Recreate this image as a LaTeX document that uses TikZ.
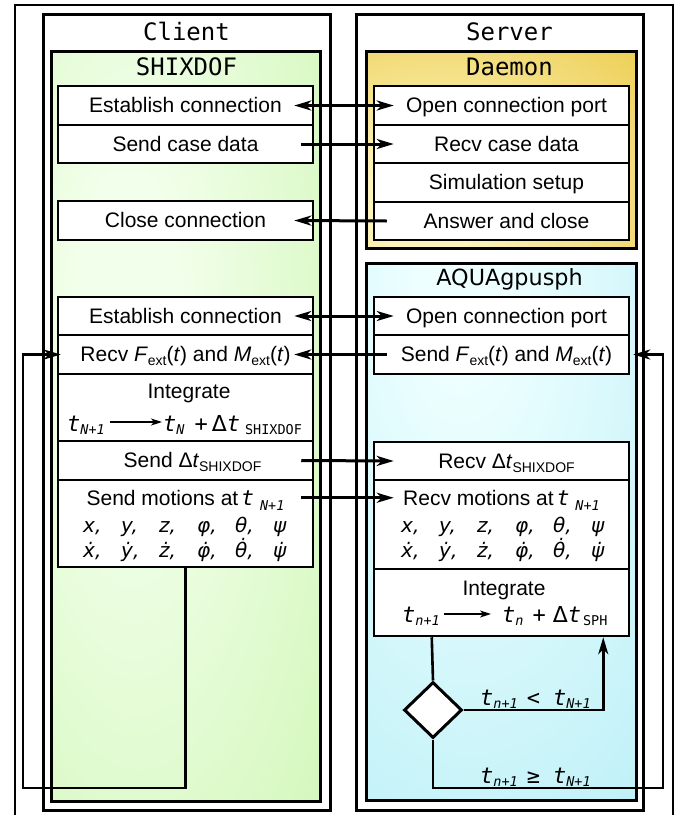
\documentclass[tikz,border=0pt]{standalone}
\usepackage{fontspec}
\setmainfont{Liberation Sans}
\newfontfamily\monof{DejaVu Sans Mono}[ItalicFont={DejaVu Sans Mono Oblique}]
\newfontfamily\dvs{DejaVu Sans}[ItalicFont={DejaVu Sans Oblique}]
\usetikzlibrary{shapes.geometric,arrows.meta,calc}

\definecolor{gin}{HTML}{F2FFEA}
\definecolor{gout}{HTML}{C4F4A4}
\definecolor{yin}{HTML}{FDF3BC}
\definecolor{yout}{HTML}{E2B814}
\definecolor{cin}{HTML}{EEFFFF}
\definecolor{cout}{HTML}{B6EEF6}

\pgfdeclareradialshading{gshade}{\pgfpoint{-12bp}{8bp}}{color(0bp)=(gin); color(10bp)=(gin); color(62bp)=(gout); color(100bp)=(gout)}
\pgfdeclareradialshading{yshade}{\pgfpoint{-15bp}{-15bp}}{color(0bp)=(yin); color(12bp)=(yin); color(72bp)=(yout); color(120bp)=(yout)}
\pgfdeclareradialshading{cshade}{\pgfpoint{-8bp}{25bp}}{color(0bp)=(cin); color(8bp)=(cin); color(58bp)=(cout); color(120bp)=(cout)}

\newcommand\bodyfont{\fontsize{21}{25}\selectfont}
\newcommand\titlefont{\monof\fontsize{24}{28}\selectfont}
\newcommand\aquafont{\dvs\fontsize{22.3}{26}\selectfont}
\newcommand\varfont{\dvs\itshape\fontsize{20}{24}\selectfont}
\newcommand\formfont{\monof\fontsize{22}{26}\selectfont}
\newcommand\tv{{\monof\itshape t}}
\newcommand\msub[2][-3pt]{\raisebox{#1}{\fontsize{13.5}{14}\selectfont\monof\itshape #2}}
\newcommand\msubu[1]{\raisebox{-3pt}{\fontsize{13.5}{14}\selectfont\monof #1}}
\newcommand\ssub[1]{\raisebox{-4pt}{\fontsize{14}{14}\selectfont #1}}
\newcommand\vc[1]{\makebox[38pt][l]{#1}}
\newcommand\sr{\hspace*{10pt}}

\tikzset{
  wbox/.style={draw, line width=2.5pt, fill=white, minimum width=255pt,
    text height=18pt, text depth=4pt, inner sep=0pt, font=\bodyfont},
  tip/.tip={Stealth[length=17pt,width=10pt,inset=5pt]},
  conn/.style={line width=3pt, -tip},
  conn2/.style={line width=3pt, tip-tip},
  loopl/.style={line width=2.6pt, -tip},
  plainl/.style={line width=2.6pt},
  thinarr/.style={line width=1.2pt, -{Stealth[length=11pt,width=7pt,inset=3pt]}},
  txt/.style={inner sep=0pt, anchor=base},
}

\begin{document}
\begin{tikzpicture}[x=1pt,y=-1pt]
\useasboundingbox (0,0) rectangle (686,815);
\fill[white] (0,0) rectangle (686,815);

% frames
\draw[line width=2pt] (15,5) rectangle (673,840);
\draw[line width=3pt] (43,14) rectangle (330,810);
\draw[line width=3pt] (356,14) rectangle (643,810);

% coloured boxes
\shade[shading=gshade] (51,51) rectangle (320,801);
\draw[line width=3pt] (51,51) rectangle (320,801);
\shade[shading=yshade] (366,51) rectangle (636,248);
\draw[line width=3pt] (366,51) rectangle (636,248);
\shade[shading=cshade] (366,263) rectangle (636,800);
\draw[line width=3pt] (366,263) rectangle (636,800);

% titles
\node[txt, font=\titlefont] (tClient) at (186.5,40) {Client};
\node[txt, font=\titlefont] (tServer) at (509.5,40) {Server};
\node[txt, font=\titlefont] (tShix) at (186.5,75) {SHIXDOF};
\node[txt, font=\titlefont] (tDaemon) at (509.5,75) {Daemon};
\node[txt, font=\aquafont] (tAqua) at (509.5,285) {AQUAgpusph};

% client rows
\node[wbox, minimum height=39pt] (estA) at (185.5,105.5) {Establish connection};
\node[wbox, minimum height=38pt] (sendCase) at (185.5,144) {Send case data};
\node[wbox, minimum height=39pt] (closeC) at (185.5,220.5) {Close connection};
\node[wbox, minimum height=38pt] (estB) at (185.5,316) {Establish connection};
\node[wbox, minimum height=39pt] (recvF) at (185.5,354.5) {Recv \textit{F}\ssub{ext}(\textit{t}) and \textit{M}\ssub{ext}(\textit{t})};
\node[wbox, minimum height=67pt] (integC) at (185.5,407.5) {};
\node[wbox, minimum height=39pt] (sendDt) at (185.5,460.5) {\hspace*{14pt}Send Δ\textit{t}\ssub{SHIXDOF}};
\node[wbox, minimum height=87pt] (sendMot) at (185.5,523.5) {};

% server rows
\node[wbox, minimum height=39pt] (openA) at (501.5,105.5) {\sr Open connection port};
\node[wbox, minimum height=38pt] (recvCase) at (501.5,144) {\sr Recv case data};
\node[wbox, minimum height=39pt] (simSetup) at (501.5,182.5) {\sr Simulation setup};
\node[wbox, minimum height=38pt] (answer) at (501.5,221) {\sr Answer and close};
\node[wbox, minimum height=38pt] (openB) at (501.5,316) {\sr Open connection port};
\node[wbox, minimum height=39pt] (sendF) at (501.5,354.5) {\sr Send \textit{F}\ssub{ext}(\textit{t}) and \textit{M}\ssub{ext}(\textit{t})};
\node[wbox, minimum height=38pt] (recvDt) at (501.5,461) {\sr Recv Δ\textit{t}\ssub{SHIXDOF}};
\node[wbox, minimum height=89pt] (recvMot) at (501.5,524.5) {};
\node[wbox, minimum height=67pt] (integS) at (501.5,602.5) {};

% client integrate
\node[txt, font=\bodyfont] (intCt) at (189,398) {Integrate};
\node[txt, anchor=base west, font=\formfont] (fC1) at (67,431) {\tv\msub{N+1}};
\node[txt, anchor=base west, font=\formfont] (fC2) at (163,431) {\tv\msub{N}\hspace{10pt}+\hspace{4pt}{\dvs Δ}\tv\hspace{5pt}\msubu{SHIXDOF}};
\draw[thinarr] ($(fC1.base east)+(5,-9)$) -- ($(fC2.base west)+(-1,-9)$);

% client motions
\node[txt, font=\bodyfont] (motC) at (185.5,505) {Send motions at\hspace{3pt}\tv\hspace{6pt}\msub[-5pt]{N+1}};
\node[txt, anchor=base west, font=\varfont] (varC) at (83,532) {\vc{x,}\vc{y,}\vc{z,}\vc{φ,}\vc{θ,}ψ};
\node[txt, anchor=base west, font=\varfont] (dvarC) at (83,557) {\vc{ẋ,}\vc{ẏ,}\vc{ż,}\vc{φ̇,}\vc{θ̇,}ψ̇};

% server motions
\node[txt, font=\bodyfont] (motS) at (501.5,505) {Recv motions at\hspace{3pt}\tv\hspace{6pt}\msub[-5pt]{N+1}};
\node[txt, anchor=base west, font=\varfont] (varS) at (401,532) {\vc{x,}\vc{y,}\vc{z,}\vc{φ,}\vc{θ,}ψ};
\node[txt, anchor=base west, font=\varfont] (dvarS) at (401,557) {\vc{ẋ,}\vc{ẏ,}\vc{ż,}\vc{φ̇,}\vc{θ̇,}ψ̇};

% server integrate
\node[txt, font=\bodyfont] (intSt) at (504,595) {Integrate};
\node[txt, anchor=base west, font=\formfont] (fS1) at (402,622) {\tv\msub{n+1}};
\node[txt, anchor=base west, font=\formfont] (fS2) at (502,622) {\tv\msub{n}\hspace{9pt}+\hspace{7pt}{\dvs Δ}\tv\hspace{2pt}\msubu{SPH}};
\draw[thinarr] ($(fS1.base east)+(4,-8)$) -- ($(fS2.base west)+(-11,-8)$);

% decision
\node[diamond, draw, fill=white, line width=3pt, inner sep=0pt, minimum width=58pt, minimum height=56pt] (dec) at (433,710) {};
\node[txt, anchor=base west, font=\formfont] (lLess) at (480,705) {\tv\msub{n+1}\hspace{9pt}<\hspace{13pt}\tv\msub{N+1}};
\node[txt, anchor=base west, font=\formfont] (lGeq) at (480,783) {\tv\msub{n+1}\hspace{9pt}≥\hspace{13pt}\tv\msub{N+1}};

\draw[plainl] ($(integS.south west)+(59,0)$) -- (dec.north);
\draw[loopl] (dec.east) -| ($(integS.south east)+(-27,0)$);

% loops
\coordinate (cLB) at (23,788);
\coordinate (cRB) at (663,788);
\draw[loopl] (sendMot.south) |- (cLB) |- ($(recvF.west)+(4,0)$);
\draw[loopl] (dec.south) |- (cRB) |- ($(sendF.east)+(3,0)$);

% messages
\draw[conn2] ($(estA.east)+(-20,0)$) -- ($(openA.west)+(21,0)$);
\draw[conn] ($(sendCase.east)+(-13,0)$) -- ($(recvCase.west)+(21,0)$);
\draw[conn] ($(answer.west)+(14,0)$) -- ($(closeC.east)+(-20,0)$);
\draw[conn2] ($(estB.east)+(-20,0)$) -- ($(openB.west)+(21,0)$);
\draw[conn] ($(sendF.west)+(14,0)$) -- ($(recvF.east)+(-20,0)$);
\draw[conn] ($(sendDt.east)+(-13,0)$) -- ($(recvDt.west)+(21,0)$);
\draw[conn] ($(sendMot.north east)+(-13,19)$) -- ($(recvMot.north west)+(21,19)$);
\end{tikzpicture}
\end{document}
